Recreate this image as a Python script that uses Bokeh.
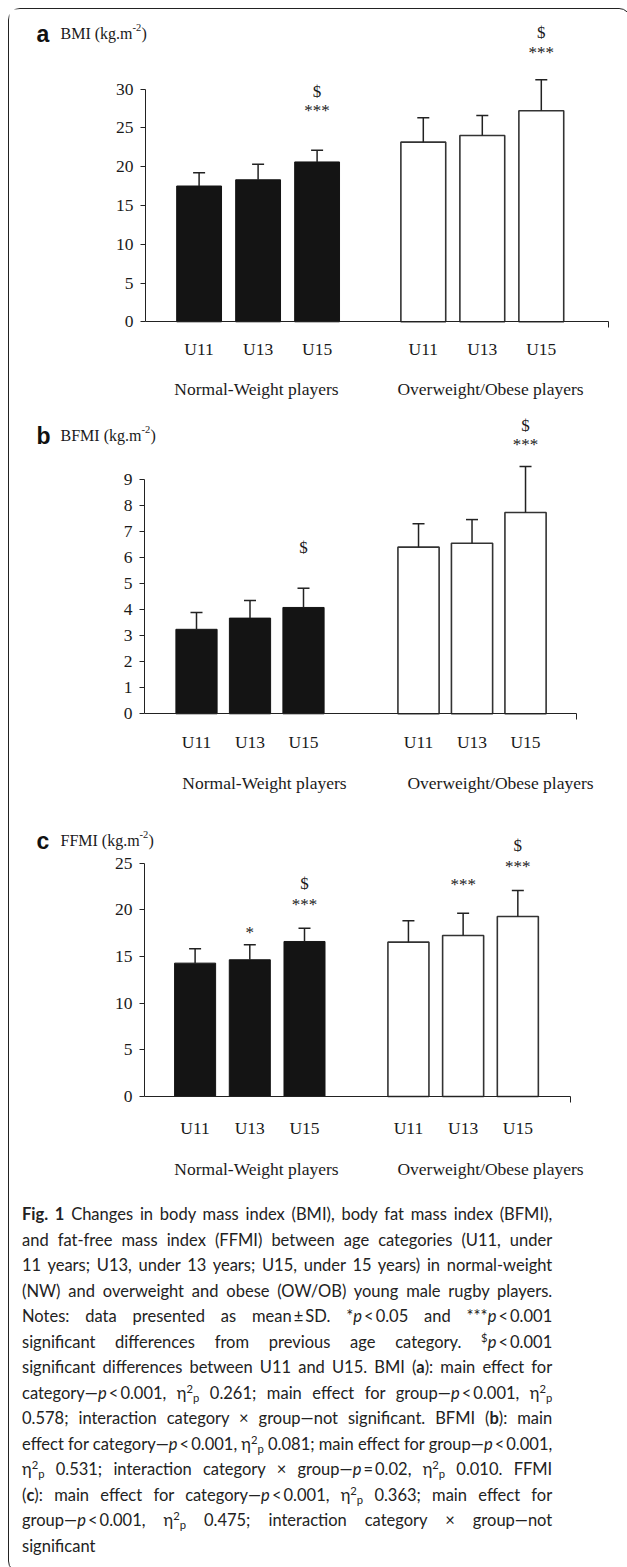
from bokeh.plotting import figure
from bokeh.models import Range1d, FixedTicker, LabelSet, Label, ColumnDataSource, Div, LinearAxis
from bokeh.layouts import column
from bokeh.embed import file_html
from bokeh.resources import INLINE
from bokeh.core.properties import value

# ---------------- data ----------------
categories = ["U11", "U13", "U15"]
groups = ["Normal-Weight players", "Overweight/Obese players"]

bmi_nw = [17.5, 18.3, 20.6]
bmi_nw_sd = [1.7, 2.0, 1.5]
bmi_ow = [23.15, 24.0, 27.2]
bmi_ow_sd = [3.15, 2.6, 4.0]

bfmi_nw = [3.25, 3.68, 4.09]
bfmi_nw_sd = [0.65, 0.68, 0.74]
bfmi_ow = [6.41, 6.56, 7.74]
bfmi_ow_sd = [0.90, 0.91, 1.77]

ffmi_nw = [14.29, 14.65, 16.61]
ffmi_nw_sd = [1.54, 1.61, 1.43]
ffmi_ow = [16.54, 17.25, 19.29]
ffmi_ow_sd = [2.29, 2.39, 2.79]

bmi_ticks = [0, 5, 10, 15, 20, 25, 30]
bfmi_ticks = [0, 1, 2, 3, 4, 5, 6, 7, 8, 9]
ffmi_ticks = [0, 5, 10, 15, 20, 25]

bmi_stars = ["", "", "***", "", "", "***"]
bmi_dollar = ["", "", "$", "", "", "$"]
bfmi_stars = ["", "", "", "", "", "***"]
bfmi_dollar = ["", "", "$", "", "", "$"]
ffmi_stars = ["", "*", "***", "", "***", "***"]
ffmi_dollar = ["", "", "$", "", "", "$"]

# ---------------- layout (page pixels) ----------------
SERIF = "Liberation Serif"
TXT = "#1a1a1a"
FIG_W = 611
PAGE_X0 = 9

cfg_a = dict(letter="a", name="BMI (kg.m", top=9, h=396, zero_py=321.3, ppu=7.76, axis_px=145,
             end_px=608, ppx=59.0, bar0_px=198.6, gap=3.8, bar_w=0.76, cat_dy=27, grp_dy=67,
             grp_px=(256, 490), title_py=33, sup_px=132,
             star_dy=[0, 0, 40, 0, 0, 27], dollar_dy=[0, 0, 59, 0, 0, 47])
cfg_b = dict(letter="b", name="BFMI (kg.m", top=405, h=395, zero_py=713.3, ppu=26.0, axis_px=144,
             end_px=576, ppx=53.5, bar0_px=196, gap=4.15, bar_w=0.77, cat_dy=28, grp_dy=69,
             grp_px=(264, 500), title_py=435, sup_px=141,
             star_dy=[0, 0, 0, 0, 0, 22], dollar_dy=[0, 0, 41, 0, 0, 41])
cfg_c = dict(letter="c", name="FFMI (kg.m", top=800, h=385, zero_py=1096, ppu=9.333, axis_px=144,
             end_px=570, ppx=54.7, bar0_px=194.6, gap=3.9, bar_w=0.75, cat_dy=31.5, grp_dy=72,
             grp_px=(256, 490), title_py=840, sup_px=139,
             star_dy=[0, 12, 24, 0, 29, 24], dollar_dy=[0, 0, 45, 0, 0, 45])


def make_panel(cfg, nw, nw_sd, ow, ow_sd, ticks, stars, dollars):
    ppx, ppu = cfg["ppx"], cfg["ppu"]

    def px2x(px):
        return (px - cfg["bar0_px"]) / ppx

    def py2y(py):
        return (cfg["zero_py"] - py) / ppu

    g = cfg["gap"]
    xs = [0, 1, 2, g, g + 1, g + 2]
    means = nw + ow
    sds = nw_sd + ow_sd
    tops = [m + s for m, s in zip(means, sds)]

    x_axis_at = px2x(cfg["axis_px"])
    x_end = px2x(cfg["end_px"])

    p = figure(width=FIG_W, height=cfg["h"],
               x_range=Range1d(px2x(PAGE_X0), px2x(PAGE_X0 + FIG_W)),
               y_range=Range1d(py2y(cfg["top"] + cfg["h"]), py2y(cfg["top"])),
               x_axis_location=None, y_axis_location=None, min_border=0,
               output_backend="svg", toolbar_location=None, title=None)
    p.outline_line_color = None
    p.background_fill_color = "white"
    p.border_fill_color = None
    for gr in p.xgrid + p.ygrid:
        gr.visible = False
        gr.grid_line_color = None

    # y axis at the left end of the bars
    yax = LinearAxis(fixed_location=x_axis_at, bounds=(0, max(ticks)),
                     ticker=FixedTicker(ticks=ticks))
    yax.major_tick_out = 5
    yax.major_tick_in = 0
    yax.minor_tick_line_color = None
    yax.axis_line_color = "#222222"
    yax.major_tick_line_color = "#222222"
    yax.major_label_text_font = SERIF
    yax.major_label_text_font_size = "17.5px"
    yax.major_label_text_color = TXT
    yax.major_label_standoff = 7
    p.add_layout(yax, "left")

    # x axis: baseline with a single end tick
    xax = LinearAxis(fixed_location=0, bounds=(x_axis_at, x_end),
                     ticker=FixedTicker(ticks=[x_end]))
    xax.major_tick_out = 6
    xax.major_tick_in = 0
    xax.minor_tick_line_color = None
    xax.axis_line_color = "#222222"
    xax.major_tick_line_color = "#222222"
    xax.major_label_text_color = None
    p.add_layout(xax, "below")

    # bars
    p.vbar(x=xs[:3], top=nw, width=cfg["bar_w"], bottom=0, fill_color="#141414",
           line_color="#141414", line_width=1)
    p.vbar(x=xs[3:], top=ow, width=cfg["bar_w"], bottom=0, fill_color="white",
           line_color="#333333", line_width=1.6)
    # error bars (upper only)
    p.segment(x0=xs, y0=means, x1=xs, y1=tops, line_color="#222222", line_width=1.5)
    p.scatter(x=xs, y=tops, marker="dash", size=12, line_color="#222222", line_width=1.5)

    # significance marks
    sx, sy, st = [], [], []
    for x, t, s, d, so, do in zip(xs, tops, stars, dollars, cfg["star_dy"], cfg["dollar_dy"]):
        if s:
            sx.append(x); sy.append(t + so / ppu); st.append(s)
        if d:
            sx.append(x); sy.append(t + do / ppu); st.append(d)
    p.add_layout(LabelSet(source=ColumnDataSource(dict(x=sx, y=sy, text=st)), x="x", y="y",
                          text="text", text_font=value(SERIF), text_font_size="17px",
                          text_color=TXT, text_align="center", text_baseline="middle"))

    # category labels
    cat_y = [py2y(cfg["zero_py"] + cfg["cat_dy"])] * 6
    p.add_layout(LabelSet(source=ColumnDataSource(dict(x=xs, y=cat_y, text=categories * 2)),
                          x="x", y="y", text="text", text_font=value(SERIF),
                          text_font_size="17.5px", text_color=TXT, text_align="center",
                          text_baseline="middle"))
    # group labels
    gx = [px2x(v) for v in cfg["grp_px"]]
    gy = [py2y(cfg["zero_py"] + cfg["grp_dy"])] * 2
    p.add_layout(LabelSet(source=ColumnDataSource(dict(x=gx, y=gy, text=groups)),
                          x="x", y="y", text="text", text_font=value(SERIF),
                          text_font_size="17.5px", text_color=TXT, text_align="center",
                          text_baseline="middle"))

    # panel title
    ty = py2y(cfg["title_py"])
    p.add_layout(Label(x=px2x(36), y=ty, text=cfg["letter"], text_font="Liberation Sans",
                       text_font_style="bold", text_font_size="23px", text_color="#111111",
                       text_align="left", text_baseline="alphabetic"))
    p.add_layout(Label(x=px2x(60), y=ty, text=cfg["name"], text_font=SERIF,
                       text_font_size="16px", text_color=TXT, text_align="left",
                       text_baseline="alphabetic"))
    p.add_layout(Label(x=px2x(cfg["sup_px"]), y=py2y(cfg["title_py"] - 6), text="-2",
                       text_font=SERIF, text_font_size="10.5px", text_color=TXT,
                       text_align="left", text_baseline="alphabetic"))
    p.add_layout(Label(x=px2x(cfg["sup_px"] + 9), y=ty, text=")", text_font=SERIF,
                       text_font_size="16px", text_color=TXT, text_align="left",
                       text_baseline="alphabetic"))
    return p


pa = make_panel(cfg_a, bmi_nw, bmi_nw_sd, bmi_ow, bmi_ow_sd, bmi_ticks, bmi_stars, bmi_dollar)
pb = make_panel(cfg_b, bfmi_nw, bfmi_nw_sd, bfmi_ow, bfmi_ow_sd, bfmi_ticks, bfmi_stars, bfmi_dollar)
pc = make_panel(cfg_c, ffmi_nw, ffmi_nw_sd, ffmi_ow, ffmi_ow_sd, ffmi_ticks, ffmi_stars, ffmi_dollar)

SUP = '<sup style="font-size:0.68em;line-height:0;vertical-align:0.55em">'
SUB = '<sub style="font-size:0.68em;line-height:0;vertical-align:-0.25em">'
ETA = "&eta;" + SUP + "2</sup>" + SUB + "p</sub>"
P = "<i>p</i>"
LT = "&#8201;&lt;&#8201;"
lines = [
    "<b>Fig. 1</b> Changes in body mass index (BMI), body fat mass index (BFMI),",
    "and fat-free mass index (FFMI) between age categories (U11, under",
    "11 years; U13, under 13 years; U15, under 15 years) in normal-weight",
    "(NW) and overweight and obese (OW/OB) young male rugby players.",
    "Notes: data presented as mean&#8201;&plusmn;&#8201;SD. *" + P + LT + "0.05 and ***" + P + LT + "0.001",
    "significant differences from previous age category. " + SUP + "$</sup>" + P + LT + "0.001",
    "significant differences between U11 and U15. BMI (<b>a</b>): main effect for",
    "category&mdash;" + P + LT + "0.001, " + ETA + " 0.261; main effect for group&mdash;" + P + LT + "0.001, " + ETA,
    "0.578; interaction category &times; group&mdash;not significant. BFMI (<b>b</b>): main",
    "effect for category&mdash;" + P + LT + "0.001, " + ETA + " 0.081; main effect for group&mdash;" + P + LT + "0.001,",
    ETA + " 0.531; interaction category &times; group&mdash;" + P + "&#8201;=&#8201;0.02, " + ETA + " 0.010. FFMI",
    "(<b>c</b>): main effect for category&mdash;" + P + LT + "0.001, " + ETA + " 0.363; main effect for",
    "group&mdash;" + P + LT + "0.001, " + ETA + " 0.475; interaction category &times; group&mdash;not",
    "significant",
]
caption_html = ('<div style="font-family:Lato;font-size:16.5px;line-height:25.5px;text-align:justify;'
                'text-align-last:justify;color:#222;padding:12px 15px 0 8px;margin:0;white-space:normal">'
                + "<br>".join(lines) + "</div>")
caption = Div(text=caption_html, width=FIG_W, height=377)

layout = column(pa, pb, pc, caption, spacing=0, margin=(8, 0, 0, 8),
                styles={"border": "1px solid #222", "border-radius": "12px", "background": "white"})

open("out.html", "w").write(file_html(layout, INLINE))
